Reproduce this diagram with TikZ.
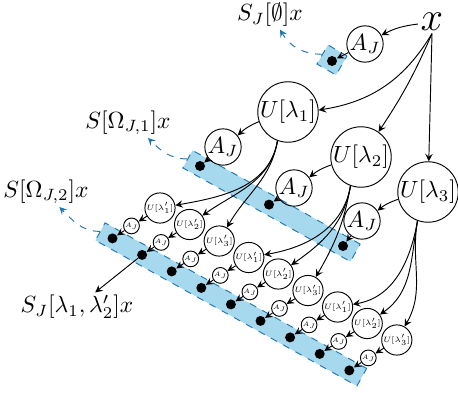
\documentclass[tikz,border=0pt]{standalone}
\usepackage{xcolor}
\usepackage{amsmath}
\usetikzlibrary{positioning,shapes,arrows,calc}

\definecolor{bandblue}{RGB}{166,216,238}
\definecolor{dashblue}{RGB}{30,120,175}
\newcommand{\shrink}[2]{\scalebox{#1}{#2}}

\tikzset{
  bigop/.style={circle, draw, inner sep=0pt},
  smallop/.style={circle, draw, inner sep=0.2pt, font=\tiny},
  blackdot/.style={circle, fill=black, inner sep=0pt, minimum size=0.15cm},
  band/.style={draw=dashblue, dashed, fill=bandblue, inner sep=0pt, minimum height=0.3cm},
  readout/.style={dashed, dashblue, ->},
  lab/.style={inner sep=1pt}
}

\begin{document}
\begin{tikzpicture}[x=0.015cm, y=0.015cm, >=stealth]
    \useasboundingbox (0,0) rectangle (458,-392);

    % bands of outputs
    \node[band, rotate=-30, minimum width=0.33cm, minimum height=0.33cm] (band0) at (332,-60) {};
    \node[band, rotate=-29.2, minimum width=2.88cm] (band1) at (271.5,-206) {};
    \node[band, rotate=-29.1, minimum width=4.49cm] (band2) at (231,-304.4) {};

    % input
    \node[font=\LARGE, inner sep=1pt] (x) at (432,-22) {$x$};
    \node[bigop, minimum size=0.54cm] (aj0) at (365,-44) {$A_J$};
    \node[blackdot] (d0) at (332,-61) {};
    \draw[->] (x) to[bend right=10] (aj0);
    \draw[->] (aj0) -- (d0);

    % labels
    \node[lab] (s0) at (270,-15) {$S_J[\emptyset]x$};
    \node[lab] (so1) at (128,-123) {$S[\Omega_{J,1}]x$};
    \node[lab] (so2) at (46,-192) {$S[\Omega_{J,2}]x$};
    \node[lab] (s12) at (77,-307) {$S_J[\lambda_1,\lambda_2']x$};

    % first layer
    \foreach \i/\ux/\uy/\ax/\ay/\dx/\dy in {1/288/112/223/147/200/166, 2/361/157/294/188/269/204.6, 3/428/192/362/221/343/246} {
        \node[bigop] (u\i) at (\ux,-\uy) {$U[\lambda_\i]$};
        \node[bigop] (aj\i) at (\ax,-\ay) {$A_J$};
        \node[blackdot] (d\i) at (\dx,-\dy) {};
        \draw[->] (u\i) to[bend right=10] (aj\i);
        \draw[->] (aj\i) -- (d\i);
    }
    \draw[->] (x.south) to[bend left=25] (u1);
    \draw[->] (x.south) to[bend left=5] (u2);
    \draw[->] (x.south) -- (u3);

    % second layer
    \foreach \k in {0,...,8} {
        \pgfmathtruncatemacro{\grp}{int(\k/3)+1}
        \pgfmathtruncatemacro{\idx}{mod(\k,3)+1}
        \pgfmathsetmacro{\px}{160+29.6*\k}
        \pgfmathsetmacro{\py}{-208-16.5*\k}
        \pgfmathsetmacro{\inang}{-15+25*\idx}
        \node[smallop] (up\k) at (\px,\py) {\shrink{0.66}{$U[\lambda_{\idx}']$}};
        \node[smallop] (sa\k) at ({\px-28.5},{\py-17.9}) {\shrink{0.55}{$A_J$}};
        \node[blackdot] (sd\k) at ({\px-47.5},{\py-30.4}) {};
        \draw[->] (u\grp.-110) to[out=-100, in=\inang] (up\k);
        \draw[->] (up\k) -- (sa\k);
        \draw[->] (sa\k) -- (sd\k);
    }
    \draw[->] (sd1) -- (s12);

    % read-outs
    \draw[readout] (band0.west) to[out=180, in=-60] ([xshift=1.5mm]s0.south);
    \draw[readout] (band1.west) to[out=180, in=-45] ([xshift=3mm]so1.south);
    \draw[readout] (band2.west) to[out=180, in=-45] ([xshift=2mm]so2.south);
\end{tikzpicture}
\end{document}
